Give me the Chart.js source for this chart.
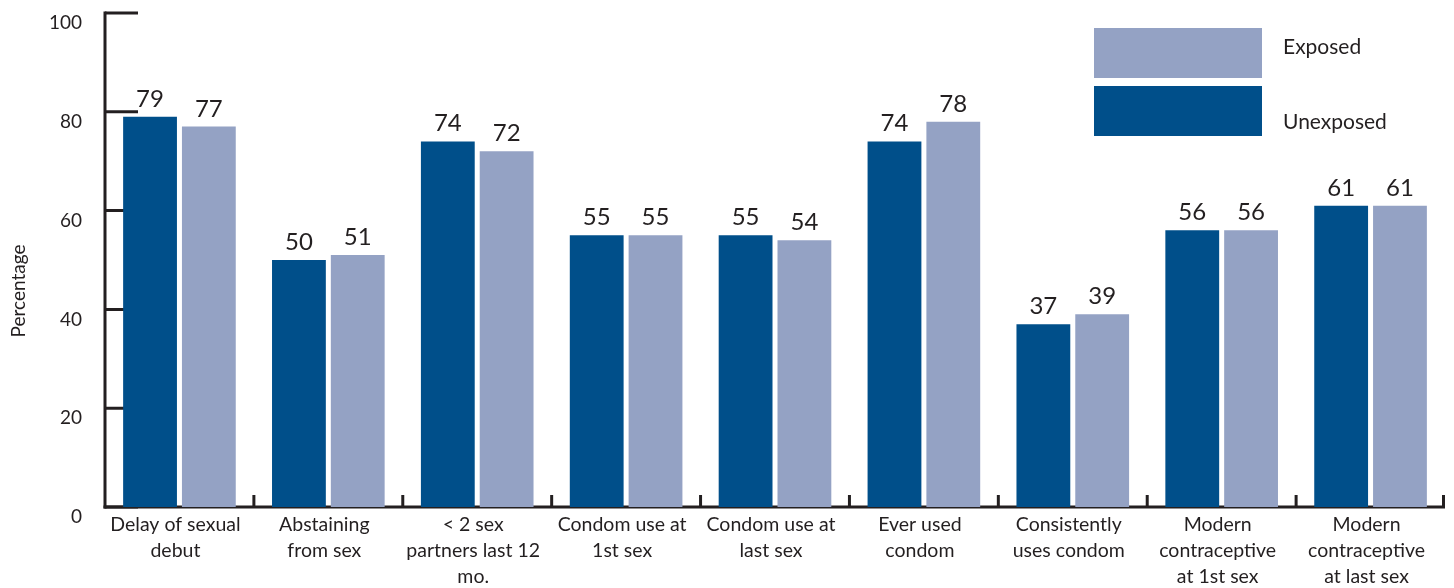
<!DOCTYPE html>
<html>
<head>
<meta charset="utf-8">
<script src="https://cdn.jsdelivr.net/npm/chart.js@4/dist/chart.umd.min.js"></script>
<style>
  html, body { margin: 0; padding: 0; background: #ffffff; }
  #wrap { width: 1454px; height: 588px; }
</style>
</head>
<body>
<div id="wrap"><canvas id="c" width="1454" height="588"></canvas></div>
<script>
// Behaviour indicators, exposed vs. unexposed respondents (%)
const categories = [
  ["Delay of sexual", "debut"],
  ["Abstaining", "from sex"],
  ["< 2 sex", "partners last 12", "mo."],
  ["Condom use at", "1st sex"],
  ["Condom use at", "last sex"],
  ["Ever used", "condom"],
  ["Consistently", "uses condom"],
  ["Modern", "contraceptive", "at 1st sex"],
  ["Modern", "contraceptive", "at last sex"]
];
const unexposed = [79, 50, 74, 55, 55, 74, 37, 56, 61];
const exposed   = [77, 51, 72, 55, 54, 78, 39, 56, 61];
const yTicks = [0, 20, 40, 60, 80, 100];
const seriesNames = ["Unexposed", "Exposed"];

const INK = "#231f20";
const DARK = "#004f8a";
const LIGHT = "#94a2c4";
const FONT = "Lato, 'Open Sans', sans-serif";

// Axis lines plus inward tick marks
const axisPlugin = {
  id: "axes",
  beforeDatasetsDraw(chart) {
    const { ctx, chartArea, scales } = chart;
    const x = scales.x, y = scales.y;
    ctx.save();
    ctx.strokeStyle = INK;
    ctx.lineWidth = 3;
    ctx.lineCap = "butt";
    // vertical axis
    ctx.beginPath();
    ctx.moveTo(chartArea.left, chartArea.top - 1.5);
    ctx.lineTo(chartArea.left, chartArea.bottom + 1.5);
    ctx.stroke();
    // y tick marks pointing into the plot
    yTicks.forEach(v => {
      const py = y.getPixelForValue(v);
      ctx.beginPath();
      ctx.moveTo(chartArea.left, py);
      ctx.lineTo(chartArea.left + 33, py);
      ctx.stroke();
    });
    // horizontal axis
    ctx.beginPath();
    ctx.moveTo(chartArea.left - 1.5, chartArea.bottom);
    ctx.lineTo(chartArea.right, chartArea.bottom);
    ctx.stroke();
    // category separators
    const n = categories.length;
    for (let i = 0; i < n; i++) {
      const px = i < n - 1
        ? (x.getPixelForValue(i) + x.getPixelForValue(i + 1)) / 2
        : chartArea.right - 1.5;
      ctx.beginPath();
      ctx.moveTo(px, chartArea.bottom);
      ctx.lineTo(px, chartArea.bottom - 12);
      ctx.stroke();
    }
    ctx.restore();
  }
};

// Value labels above each bar
const valuePlugin = {
  id: "values",
  afterDatasetsDraw(chart) {
    const { ctx } = chart;
    ctx.save();
    ctx.fillStyle = INK;
    ctx.font = "24px " + FONT;
    ctx.textAlign = "center";
    ctx.textBaseline = "alphabetic";
    chart.data.datasets.forEach((ds, di) => {
      chart.getDatasetMeta(di).data.forEach((bar, i) => {
        ctx.fillText(String(ds.data[i]), bar.x, bar.y - 10);
      });
    });
    ctx.restore();
  }
};

// Legend block and rotated axis title
const decorPlugin = {
  id: "decor",
  afterDraw(chart) {
    const { ctx } = chart;
    const ds = chart.data.datasets;
    ctx.save();
    // Exposed on top, Unexposed below
    ctx.fillStyle = ds[1].backgroundColor;
    ctx.fillRect(1094, 28, 168, 50);
    ctx.fillStyle = ds[0].backgroundColor;
    ctx.fillRect(1094, 86, 168, 50);
    ctx.fillStyle = INK;
    ctx.font = "21px " + FONT;
    ctx.textAlign = "left";
    ctx.textBaseline = "middle";
    ctx.fillText(ds[1].label, 1283, 47);
    ctx.fillText(ds[0].label, 1283, 122);
    // y axis title
    ctx.translate(19, 291);
    ctx.rotate(-Math.PI / 2);
    ctx.textAlign = "center";
    ctx.font = "19px " + FONT;
    ctx.fillText("Percentage", 0, 0);
    ctx.restore();
  }
};

new Chart(document.getElementById("c"), {
  type: "bar",
  data: {
    labels: categories,
    datasets: [
      { label: seriesNames[0], data: unexposed, backgroundColor: DARK,
        categoryPercentage: 0.79, barPercentage: 0.915 },
      { label: seriesNames[1], data: exposed, backgroundColor: LIGHT,
        categoryPercentage: 0.79, barPercentage: 0.915 }
    ]
  },
  options: {
    responsive: false,
    animation: false,
    devicePixelRatio: 1,
    layout: { padding: { top: 13, right: 9, left: 0, bottom: 0 } },
    plugins: {
      legend: { display: false },
      tooltip: { enabled: false }
    },
    scales: {
      x: {
        grid: { display: false, drawTicks: false },
        border: { display: false },
        ticks: {
          color: INK,
          font: { family: FONT, size: 19.5, lineHeight: 1.33 },
          padding: 5,
          labelOffset: -4,
          maxRotation: 0,
          autoSkip: false
        },
        afterFit(s) {
          s.height = 81;
          s.paddingLeft = 0; s.paddingRight = 0;
          s.paddingTop = 0; s.paddingBottom = 0;
        }
      },
      y: {
        min: 0,
        max: 100,
        grid: { display: false, drawTicks: false },
        border: { display: false },
        afterBuildTicks(s) { s.ticks = yTicks.map(v => ({ value: v })); },
        ticks: {
          color: INK,
          font: { family: FONT, size: 19 },
          padding: 23,
          labelOffset: 10
        },
        afterFit(s) {
          s.width = 105;
          s.paddingTop = 0; s.paddingBottom = 0;
          s.paddingLeft = 0; s.paddingRight = 0;
        }
      }
    }
  },
  plugins: [axisPlugin, valuePlugin, decorPlugin]
});
</script>
</body>
</html>
